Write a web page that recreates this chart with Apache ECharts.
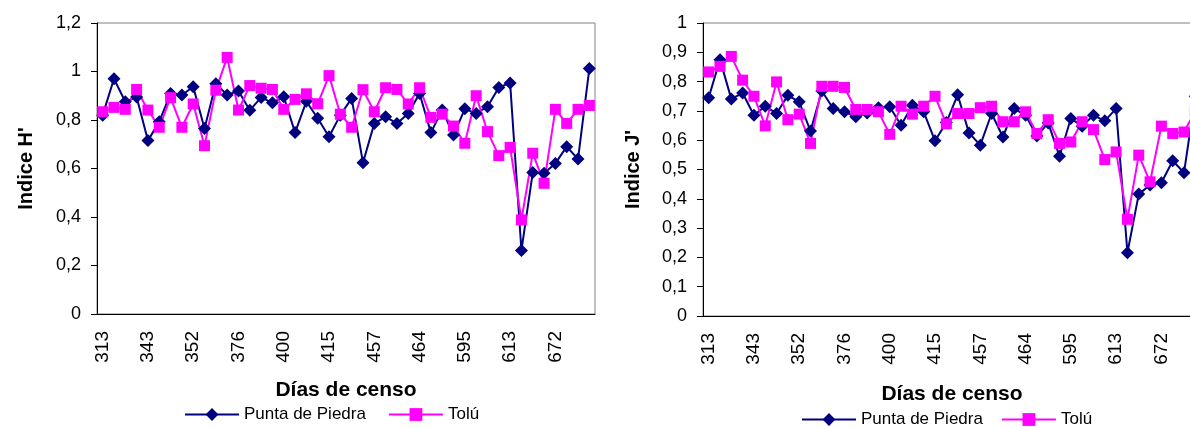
<!DOCTYPE html>
<html><head><meta charset="utf-8">
<script src="https://cdn.jsdelivr.net/npm/echarts@6/dist/echarts.min.js"></script>
<style>html,body{margin:0;padding:0;background:#fff;overflow:hidden;width:1190px;height:428px}#c{width:1204px;height:428px}</style>
</head><body><div id="c"></div>
<script>
// 44 census days; only every 4th day is labelled in the reference
const dayTickLabels = ['313','343','352','376','400','415','457','464','595','613','672'];
const nDays = 44;
const categories = Array.from({length: nDays}, (_, i) => String(i));

const puntaH = [0.82,0.97,0.875,0.895,0.715,0.793,0.909,0.903,0.937,0.765,0.95,0.903,0.92,0.84,0.893,0.871,0.896,0.748,0.877,0.807,0.731,0.82,0.889,0.624,0.786,0.813,0.786,0.827,0.909,0.748,0.841,0.738,0.846,0.827,0.855,0.934,0.953,0.262,0.583,0.58,0.621,0.69,0.639,1.012];
const toluH  = [0.834,0.852,0.844,0.926,0.841,0.77,0.892,0.77,0.866,0.694,0.923,1.058,0.841,0.942,0.931,0.926,0.844,0.885,0.908,0.867,0.983,0.824,0.77,0.925,0.834,0.933,0.926,0.866,0.933,0.811,0.824,0.775,0.704,0.9,0.752,0.653,0.687,0.388,0.663,0.539,0.844,0.786,0.844,0.86];
const puntaJ = [0.745,0.875,0.741,0.761,0.685,0.716,0.691,0.753,0.731,0.631,0.768,0.708,0.697,0.68,0.693,0.711,0.714,0.651,0.719,0.697,0.598,0.66,0.755,0.625,0.583,0.691,0.611,0.708,0.685,0.614,0.659,0.545,0.674,0.648,0.685,0.666,0.708,0.216,0.416,0.447,0.455,0.53,0.489,0.75];
const toluJ  = [0.833,0.852,0.886,0.805,0.75,0.649,0.799,0.67,0.689,0.589,0.784,0.784,0.78,0.705,0.705,0.697,0.62,0.716,0.689,0.716,0.75,0.656,0.691,0.691,0.711,0.716,0.663,0.663,0.697,0.623,0.67,0.589,0.594,0.663,0.636,0.534,0.56,0.33,0.549,0.458,0.648,0.623,0.628,0.70];

const seriesNames = ['Punta de Piedra', 'Tolú'];
const navy = '#000080', pink = '#FF00FF';
const FONT = "'Liberation Sans', Arial, sans-serif";

function xAxis(gi, nameGap) {
  return {
    type: 'category', gridIndex: gi, data: categories, boundaryGap: true,
    axisLine: {lineStyle: {color: '#000', width: 1}},
    axisTick: {interval: 0, length: 5, lineStyle: {color: '#000'}},
    axisLabel: {interval: 3, rotate: 90, margin: 17, fontSize: 19, color: '#000', fontFamily: FONT,
      formatter: (v, i) => dayTickLabels[Math.round(Number(v) / 4)] || ''},
    name: 'Días de censo', nameLocation: 'middle', nameGap: nameGap,
    nameTextStyle: {fontSize: 21, fontWeight: 'bold', color: '#000', fontFamily: FONT},
    splitLine: {show: false}
  };
}
function yAxis(gi, max, interval, name, nameGap) {
  return {
    type: 'value', gridIndex: gi, min: 0, max: max, interval: interval,
    axisLine: {show: true, lineStyle: {color: '#000', width: 1}},
    axisTick: {show: true, length: 6, lineStyle: {color: '#000'}},
    axisLabel: {margin: 16, fontSize: 18, color: '#000', fontFamily: FONT,
      formatter: v => String(Math.round(v * 10) / 10).replace('.', ',')},
    splitLine: {show: false},
    name: name, nameLocation: 'middle', nameRotate: 90, nameGap: nameGap,
    nameTextStyle: {fontSize: 20, fontWeight: 'bold', color: '#000', fontFamily: FONT}
  };
}
function line(name, data, gi, color, symbol, size) {
  return {
    type: 'line', name: name, xAxisIndex: gi, yAxisIndex: gi, data: data,
    symbol: symbol, symbolSize: size, showSymbol: true, showAllSymbol: true,
    lineStyle: {color: color, width: 2}, itemStyle: {color: color},
    animation: false
  };
}
function legend(left, top, gap) {
  return {
    left: left, top: top, data: seriesNames, itemWidth: 54, itemHeight: 16, itemGap: gap,
    textStyle: {fontSize: 17, color: '#000', fontFamily: FONT}
  };
}

const chart = echarts.init(document.getElementById('c'), null, {renderer: 'canvas'});
chart.setOption({
  backgroundColor: '#fff',
  animation: false,
  grid: [
    {left: 97, top: 23, width: 498, height: 291, show: true, borderColor: '#808080', borderWidth: 1, backgroundColor: '#fff'},
    {left: 703, top: 23, width: 498, height: 293, show: true, borderColor: '#808080', borderWidth: 1, backgroundColor: '#fff'}
  ],
  xAxis: [xAxis(0, 66), xAxis(1, 68)],
  yAxis: [yAxis(0, 1.2, 0.2, "Indice H'", 61), yAxis(1, 1, 0.1, "Indice J'", 60)],
  legend: [legend(179, 401, 22), legend(796, 406, 18)],
  series: [
    line(seriesNames[0], puntaH, 0, navy, 'diamond', 13),
    line(seriesNames[1], toluH, 0, pink, 'rect', 11),
    line(seriesNames[0], puntaJ, 1, navy, 'diamond', 13),
    line(seriesNames[1], toluJ, 1, pink, 'rect', 11)
  ]
});
</script></body></html>
